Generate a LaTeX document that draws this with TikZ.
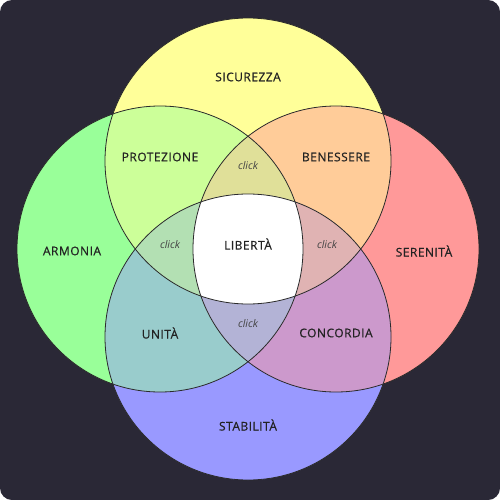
\documentclass[tikz,border=0pt]{standalone}
\usepackage{fontspec}
\setmainfont{Open Sans}
\newfontfamily\lblfont{Open Sans}[FakeBold=0.6,LetterSpace=4]
\definecolor{bg}{HTML}{2A2836}
\definecolor{cT}{HTML}{FFFF99}
\definecolor{cL}{HTML}{99FF99}
\definecolor{cR}{HTML}{FF9999}
\definecolor{cB}{HTML}{9999FF}
\definecolor{cTL}{HTML}{CCFF99}
\definecolor{cTR}{HTML}{FFCC99}
\definecolor{cBL}{HTML}{99CCCC}
\definecolor{cBR}{HTML}{CC99CC}
\definecolor{cTB}{HTML}{CCCCCC}
\definecolor{cLR}{HTML}{CCCC99}
\definecolor{cTLR}{HTML}{E0E099}
\definecolor{cTLB}{HTML}{B3E0B3}
\definecolor{cTRB}{HTML}{E0B3B3}
\definecolor{cBLR}{HTML}{B3B3D6}
\definecolor{ink}{HTML}{222222}
\definecolor{edge}{HTML}{2B2B2B}
\tikzset{
  lbl/.style={font=\lblfont\fontsize{12}{14}\selectfont, text=ink, inner sep=0pt},
  clk/.style={font=\fontsize{10.5}{12}\selectfont\itshape, text=ink!85, inner sep=0pt},
  ring/.style={draw=edge, line width=0.8pt}
}
\begin{document}
\begin{tikzpicture}[x=1pt,y=-1pt]
\useasboundingbox (0,0) rectangle (500,500);
\fill[white] (0,0) rectangle (500,500);
\fill[bg, rounded corners=12pt] (0,0) rectangle (500,500);
\def\rr{143pt}
\coordinate (T) at (248,161);
\coordinate (B) at (248,337);
\coordinate (L) at (160,249);
\coordinate (R) at (336,249);
% single circles
\fill[cT] (T) circle[radius=\rr];
\fill[cL] (L) circle[radius=\rr];
\fill[cR] (R) circle[radius=\rr];
\fill[cB] (B) circle[radius=\rr];
% pairwise
\begin{scope}
  \clip (T) circle[radius=\rr];
  \fill[cTL] (L) circle[radius=\rr];
  \fill[cTR] (R) circle[radius=\rr];
  \fill[cTB] (B) circle[radius=\rr];
\end{scope}
\begin{scope}
  \clip (B) circle[radius=\rr];
  \fill[cBL] (L) circle[radius=\rr];
  \fill[cBR] (R) circle[radius=\rr];
\end{scope}
\begin{scope}
  \clip (L) circle[radius=\rr];
  \fill[cLR] (R) circle[radius=\rr];
\end{scope}
% triples
\begin{scope}
  \clip (T) circle[radius=\rr];
  \clip (L) circle[radius=\rr];
  \fill[cTLR] (R) circle[radius=\rr];
  \fill[cTLB] (B) circle[radius=\rr];
\end{scope}
\begin{scope}
  \clip (T) circle[radius=\rr];
  \clip (R) circle[radius=\rr];
  \fill[cTRB] (B) circle[radius=\rr];
\end{scope}
\begin{scope}
  \clip (B) circle[radius=\rr];
  \clip (L) circle[radius=\rr];
  \fill[cBLR] (R) circle[radius=\rr];
\end{scope}
% quadruple
\begin{scope}
  \clip (T) circle[radius=\rr];
  \clip (L) circle[radius=\rr];
  \clip (R) circle[radius=\rr];
  \fill[white] (B) circle[radius=\rr];
\end{scope}
% outlines
\draw[ring] (T) circle[radius=\rr];
\draw[ring] (L) circle[radius=\rr];
\draw[ring] (R) circle[radius=\rr];
\draw[ring] (B) circle[radius=\rr];
% labels
\node[lbl] (sic) at (248,77) {SICUREZZA};
\node[lbl] (pro) at (160,157) {PROTEZIONE};
\node[lbl] (ben) at (336,157) {BENESSERE};
\node[clk] (c1) at (248,166) {click};
\node[lbl] (arm) at (72,251) {ARMONIA};
\node[clk] (c2) at (170,245) {click};
\node[lbl] (lib) at (248,244) {LIBERTÀ};
\node[clk] (c3) at (327,245) {click};
\node[lbl] (ser) at (424,251) {SERENITÀ};
\node[lbl] (uni) at (160,333) {UNITÀ};
\node[clk] (c4) at (248,324) {click};
\node[lbl] (con) at (336,333) {CONCORDIA};
\node[lbl] (sta) at (248,425) {STABILITÀ};
\end{tikzpicture}
\end{document}
